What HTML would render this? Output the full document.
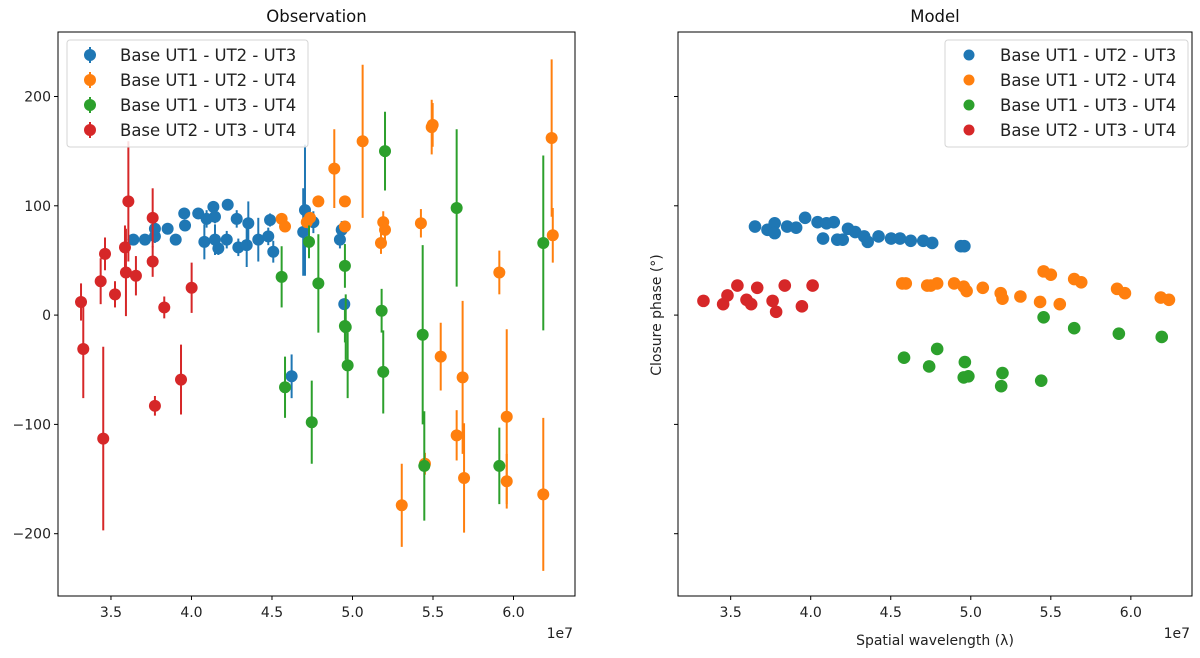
<!DOCTYPE html>
<html><head><meta charset="utf-8"><style>
html,body{margin:0;padding:0;background:#fff;}
svg{display:block;font-family:"DejaVu Sans","Liberation Sans",sans-serif;}
</style></head><body>
<svg id="chart" width="1200" height="658" viewBox="0 0 1200 658" xmlns="http://www.w3.org/2000/svg"></svg>
<script>
// ---- data ----
const seriesNames = ["Base UT1 - UT2 - UT3","Base UT1 - UT2 - UT4","Base UT1 - UT3 - UT4","Base UT2 - UT3 - UT4"];
const seriesColors = ["#1f77b4","#ff7f0e","#2ca02c","#d62728"];
const xTicks = [3.5,4.0,4.5,5.0,5.5,6.0];
const yTicks = [200,100,0,-100,-200];

// Observation (x in 1e7, y deg, err deg)
const obsBlueX = [3.639,3.711,3.773,3.773,3.852,3.902,3.955,3.960,4.042,4.080,4.094,4.136,4.146,4.167,4.146,4.219,4.225,4.281,4.291,4.343,4.353,4.415,4.488,4.508,4.477,4.705,4.694,4.757,4.922,4.933,4.949,4.622];
const obsBlueY = [69,69,72,79,79,69,93,82,93,67,88,99,90,61,69,69,101,88,62,64,84,69,87,58,72,96,76,85,69,78,10,-56];
const obsBlueE = [5,5,6,8,5,4,5,5,5,16,8,5,6,6,14,8,5,8,8,20,20,20,6,10,8,60,40,10,8,8,5,20];
const obsOrangeX = [4.560,4.581,4.716,4.736,4.788,4.887,4.953,4.953,5.063,5.191,5.202,5.177,5.425,5.492,5.498,5.912,6.237,6.244,5.306,5.450,5.548,5.684,5.647,5.693,5.958,5.958,6.185];
const obsOrangeY = [88,81,85,89,104,134,104,81,159,85,78,66,84,172,174,39,162,73,-174,-136,-38,-57,-110,-149,-93,-152,-164];
const obsOrangeE = [5,5,5,5,5,36,5,5,70,10,10,10,13,25,20,20,72,25,38,10,31,70,23,50,80,25,70];
const obsGreenX = [4.560,4.730,4.788,4.953,4.953,5.202,5.647,6.185,5.181,4.581,4.747,4.970,4.958,5.191,5.436,5.446,5.912];
const obsGreenY = [35,67,29,45,-10,150,98,66,4,-66,-98,-46,-11,-52,-18,-138,-138];
const obsGreenE = [28,15,45,20,15,36,72,80,20,28,38,30,30,38,82,50,35];
const obsRedX = [3.314,3.328,3.436,3.463,3.525,3.452,3.608,3.587,3.593,3.655,3.759,3.759,3.831,3.773,3.935,4.001];
const obsRedY = [12,-31,31,56,19,-113,104,62,39,36,89,49,7,-83,-59,25];
const obsRedE = [17,45,21,15,12,84,55,20,40,18,27,14,10,9,32,23];

// Model
const modBlueX = [3.652,3.730,3.775,3.775,3.853,3.909,3.965,4.043,4.099,4.144,4.077,4.166,4.200,4.233,4.278,4.334,4.356,4.424,4.502,4.558,4.625,4.703,4.759,4.938,4.960];
const modBlueY = [81,78,84,75,81,80,89,85,84,85,70,69,69,79,76,72,67,72,70,70,68,68,66,63,63];
const modOrangeX = [4.572,4.594,4.728,4.750,4.790,4.896,4.956,4.974,5.075,5.187,5.198,5.310,5.433,5.455,5.500,5.556,5.646,5.690,5.914,5.963,6.187,6.238];
const modOrangeY = [29,29,27,27,29,29,26,22,25,20,15,17,12,40,37,10,33,30,24,20,16,14];
const modGreenX = [4.583,4.740,4.790,4.963,4.956,4.985,5.198,5.190,5.440,5.455,5.646,5.925,6.193];
const modGreenY = [-39,-47,-31,-43,-57,-56,-53,-65,-60,-2,-12,-17,-20];
const modRedX = [3.330,3.453,3.480,3.542,3.599,3.628,3.666,3.762,3.784,3.838,3.945,4.012];
const modRedY = [13,10,18,27,14,10,25,13,3,27,8,27];

// ---- layout ----
const NS = "http://www.w3.org/2000/svg";
const svg = document.getElementById("chart");
const XMIN = 3.171, XMAX = 6.382, YMIN = -257, YMAX = 259;
const TOP = 32, BOTTOM = 596;
const panels = [{left:58, right:575}, {left:678, right:1192}];
function xs(p, v){ return p.left + (v - XMIN) / (XMAX - XMIN) * (p.right - p.left); }
function ys(v){ return BOTTOM - (v - YMIN) / (YMAX - YMIN) * (BOTTOM - TOP); }
function el(tag, attrs, parent){
  const e = document.createElementNS(NS, tag);
  for (const k in attrs) e.setAttribute(k, attrs[k]);
  (parent || svg).appendChild(e);
  return e;
}
function txt(s, attrs, parent){ const t = el("text", attrs, parent); t.textContent = s; return t; }

panels.forEach((p, pi) => {
  const g = el("g", {});
  
  
  xTicks.forEach(v => {
    const x = xs(p, v);
    const t = el("line", {x1:x, x2:x, y1:BOTTOM, y2:BOTTOM+4, stroke:"#000", "stroke-width":1}, g);
    
    
    const l = txt(v.toFixed(1), {x:x, y:BOTTOM+21, "text-anchor":"middle", "font-size":14, fill:"#222"}, g);
    
    
  });
  yTicks.forEach(v => {
    const y = ys(v);
    const t = el("line", {x1:p.left-4, x2:p.left, y1:y, y2:y, stroke:"#000", "stroke-width":1}, g);
    
    
    if (pi === 0) {
      const l = txt(v < 0 ? "\u2212" + Math.abs(v) : String(v), {x:p.left-7, y:y+5, "text-anchor":"end", "font-size":14, fill:"#222"}, g);
      
      
    }
  });
  const off = txt("1e7", {x:p.right-2, y:BOTTOM+42, "text-anchor":"end", "font-size":14, fill:"#222"}, g);
  
  
  const title = txt(pi === 0 ? "Observation" : "Model", {x:(p.left+p.right)/2, y:22, "text-anchor":"middle", "font-size":16.5, fill:"#111"}, g);
  
  
});

const obsSets = [[obsBlueX,obsBlueY,obsBlueE],[obsOrangeX,obsOrangeY,obsOrangeE],[obsGreenX,obsGreenY,obsGreenE],[obsRedX,obsRedY,obsRedE]];
const p0 = panels[0], p1 = panels[1];
obsSets.forEach((s, si) => {
  const g = el("g", {});
  
  
  s[0].forEach((xv, i) => {
    const x = xs(p0, xv), y = ys(s[1][i]);
    const b = el("line", {x1:x, x2:x, y1:ys(s[1][i]+s[2][i]), y2:ys(s[1][i]-s[2][i]), stroke:seriesColors[si], "stroke-width":2}, g);
    
    
    const c = el("circle", {cx:x, cy:y, r:6, fill:seriesColors[si]}, g);
    
    
  });
});
const modSets = [[modBlueX,modBlueY],[modOrangeX,modOrangeY],[modGreenX,modGreenY],[modRedX,modRedY]];
modSets.forEach((s, si) => {
  const g = el("g", {});
  
  
  s[0].forEach((xv, i) => {
    const c = el("circle", {cx:xs(p1, xv), cy:ys(s[1][i]), r:6.3, fill:seriesColors[si]}, g);
    
    
  });
});

panels.forEach(p => {
  const f = el("rect", {x:p.left, y:TOP, width:p.right-p.left, height:BOTTOM-TOP, fill:"none", stroke:"#000", "stroke-width":1});
  
  
});

function legend(x0, y0, w, h, mx, tx, withBar){
  const g = el("g", {});
  
  
  el("rect", {x:x0, y:y0, width:w, height:h, rx:3, fill:"rgba(255,255,255,0.85)", stroke:"#d5d5d5", "stroke-width":1}, g);
  seriesNames.forEach((n, i) => {
    const y = 55 + i*25;
    if (withBar) el("line", {x1:mx, x2:mx, y1:y-8, y2:y+8, stroke:seriesColors[i], "stroke-width":2}, g);
    const c = el("circle", {cx:mx, cy:y, r:withBar?6:5.5, fill:seriesColors[i]}, g);
    
    
    const t = txt(n, {x:tx, y:y+6, "font-size":16.5, fill:"#222"}, g);
    
    
  });
}
legend(67, 40, 241, 107, 90, 120, true);
legend(945, 40, 243, 107, 969, 1000, false);

const yl = txt("Closure phase (\u00B0)", {x:0, y:0, "text-anchor":"middle", "font-size":14, fill:"#222", transform:"translate(661,315) rotate(-90)"});


const xl = txt("Spatial wavelength (\u03BB)", {x:935, y:645, "text-anchor":"middle", "font-size":14, fill:"#222"});


</script>
</body></html>
